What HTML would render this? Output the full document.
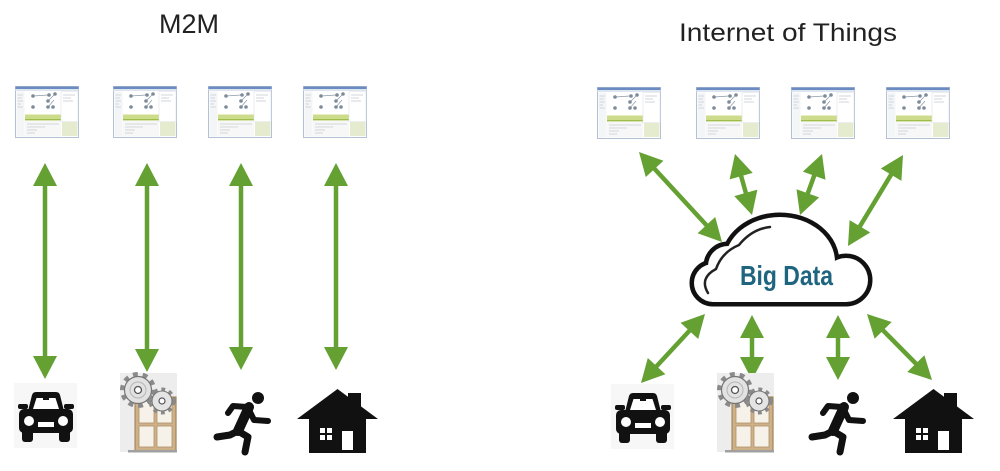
<!DOCTYPE html>
<html>
<head>
<meta charset="utf-8">
<style>
  html, body { margin: 0; padding: 0; background: #ffffff; }
  body { width: 1000px; height: 471px; overflow: hidden; }
  svg { display: block; }
</style>
</head>
<body>
<svg width="1000" height="471" viewBox="0 0 1000 471" xmlns="http://www.w3.org/2000/svg">
  <defs>
    <!-- screenshot thumbnail 64x52 -->
    <g id="thumb">
      <rect x="0.5" y="0.5" width="63" height="51" fill="#ffffff" stroke="#b4c0d4" stroke-width="1"/>
      <rect x="0.5" y="0.5" width="63" height="2.5" fill="#6b8cc2"/>
      <rect x="0.5" y="3" width="63" height="2" fill="#dde5f0"/>
      <rect x="1.5" y="5.5" width="8" height="45" fill="#f3f5f7"/>
      <g stroke="#c9ced6" stroke-width="0.8">
        <line x1="2.5" y1="9" x2="8" y2="9"/>
        <line x1="2.5" y1="12" x2="7" y2="12"/>
        <line x1="2.5" y1="15" x2="8" y2="15"/>
        <line x1="2.5" y1="18" x2="6" y2="18"/>
        <line x1="2.5" y1="21" x2="8" y2="21"/>
      </g>
      <g stroke="#8d99a6" stroke-width="0.7">
        <line x1="33" y1="15" x2="40" y2="8"/>
        <line x1="33" y1="21" x2="39" y2="14"/>
        <line x1="18" y1="10" x2="33" y2="9"/>
      </g>
      <g fill="#7d8b99">
        <circle cx="18" cy="10" r="1.8"/>
        <circle cx="34" cy="9" r="1.8"/>
        <circle cx="40" cy="8" r="1.8"/>
        <circle cx="33" cy="15" r="1.8"/>
        <circle cx="18" cy="21" r="1.8"/>
        <circle cx="33" cy="21" r="1.8"/>
        <circle cx="38" cy="21" r="1.8"/>
      </g>
      <rect x="10" y="28.5" width="36" height="6" fill="#cddc8a"/>
      <rect x="10" y="33" width="36" height="1.3" fill="#9fbd4c"/>
      <rect x="10" y="35" width="36" height="15.5" fill="#f7f7f7"/>
      <g stroke="#c7ccd2" stroke-width="0.8">
        <line x1="12" y1="38" x2="44" y2="38"/>
        <line x1="12" y1="41" x2="30" y2="41"/>
        <line x1="12" y1="44" x2="22" y2="44"/>
        <line x1="12" y1="47" x2="20" y2="47"/>
      </g>
      <rect x="46" y="5.5" width="17" height="30" fill="#ffffff" stroke="#dfe3e8" stroke-width="0.6"/>
      <g stroke="#c7ccd2" stroke-width="0.8">
        <line x1="48" y1="9" x2="60" y2="9"/>
        <line x1="48" y1="12" x2="56" y2="12"/>
        <line x1="48" y1="15" x2="58" y2="15"/>
      </g>
      <rect x="47" y="36" width="15.5" height="14" fill="#e4ebcf"/>
    </g>

    <!-- car -->
    <g id="car">
      <rect x="-2" y="-8" width="63" height="65" fill="#f7f7f7"/>
      <path d="M12,20 L16,4 Q17,1 20,1 L40,1 Q43,1 44,4 L48,20 Z" fill="#111"/>
      <path d="M17,18 L20.5,7 L39.5,7 L43,18 Z" fill="#fff"/>
      <rect x="27" y="6" width="6" height="3" fill="#111"/>
      <rect x="2" y="13" width="10" height="5" rx="2" fill="#111"/>
      <rect x="48" y="13" width="10" height="5" rx="2" fill="#111"/>
      <rect x="3" y="18" width="54" height="24" rx="5" fill="#111"/>
      <circle cx="13" cy="30" r="5" fill="#fff"/>
      <circle cx="47" cy="30" r="5" fill="#fff"/>
      <rect x="22" y="31" width="16" height="5" fill="#fff"/>
      <rect x="6" y="38" width="11" height="13" rx="3" fill="#111"/>
      <rect x="43" y="38" width="11" height="13" rx="3" fill="#111"/>
    </g>

    <!-- door with gears -->
    <g id="door">
      <rect x="120" y="373" width="57" height="79" fill="#ededed"/>
      <rect x="135" y="397" width="41" height="54" fill="#cfb189" stroke="#9a7a4e" stroke-width="1"/>
      <rect x="139" y="401" width="15" height="22" fill="#f6f2ea" stroke="#b09068" stroke-width="0.8"/>
      <rect x="157" y="401" width="15" height="22" fill="#f6f2ea" stroke="#b09068" stroke-width="0.8"/>
      <rect x="139" y="426" width="15" height="21" fill="#f6f2ea" stroke="#b09068" stroke-width="0.8"/>
      <rect x="157" y="426" width="15" height="21" fill="#f6f2ea" stroke="#b09068" stroke-width="0.8"/>
      <rect x="128" y="450" width="49" height="2.5" fill="#a0a0a0"/>
      <!-- big gear -->
      <circle cx="138" cy="390" r="15.5" fill="none" stroke="#8a8a8a" stroke-width="5" stroke-dasharray="4.8 4.9"/>
      <circle cx="138" cy="390" r="13.5" fill="#e2e2e2" stroke="#777" stroke-width="1.2"/>
      <circle cx="138" cy="390" r="8" fill="none" stroke="#b5b5b5" stroke-width="1"/>
      <circle cx="138" cy="390" r="3.5" fill="#fff" stroke="#555" stroke-width="1.3"/>
      <!-- small gear -->
      <circle cx="162" cy="401" r="11.5" fill="none" stroke="#8a8a8a" stroke-width="4" stroke-dasharray="3.8 3.8"/>
      <circle cx="162" cy="401" r="10" fill="#e4e4e4" stroke="#777" stroke-width="1.1"/>
      <circle cx="162" cy="401" r="3" fill="#fff" stroke="#555" stroke-width="1.2"/>
    </g>

    <!-- runner -->
    <g id="runner" fill="none" stroke="#111" stroke-linecap="round" stroke-linejoin="round">
      <circle cx="258" cy="398" r="6" fill="#111" stroke="none"/>
      <line x1="249" y1="407" x2="238" y2="431" stroke-width="10"/>
      <polyline points="247,407 233,406 228,413" stroke-width="6"/>
      <polyline points="249,410 254,420 268,421" stroke-width="6"/>
      <polyline points="238,431 230,435 217,437" stroke-width="7"/>
      <polyline points="238,431 248,437 245,452" stroke-width="7"/>
    </g>

    <!-- house -->
    <g id="house">
      <polygon points="297,419 337.5,389 378,419" fill="#111"/>
      <rect x="348" y="393" width="13" height="16" fill="#111"/>
      <rect x="309" y="415" width="57" height="38" fill="#111"/>
      <rect x="320" y="428" width="5" height="5" fill="#fff"/>
      <rect x="327" y="428" width="5" height="5" fill="#fff"/>
      <rect x="320" y="435" width="5" height="5" fill="#fff"/>
      <rect x="327" y="435" width="5" height="5" fill="#fff"/>
      <rect x="342" y="431" width="11" height="19" fill="#fff"/>
    </g>
  </defs>

  <rect x="0" y="0" width="1000" height="471" fill="#ffffff"/>

  <!-- titles -->
  <text x="159" y="33" font-family="Liberation Sans, Arial, sans-serif" font-size="27" fill="#222" textLength="60" lengthAdjust="spacingAndGlyphs">M2M</text>
  <text x="679" y="41" font-family="Liberation Sans, Arial, sans-serif" font-size="25" fill="#222" textLength="218" lengthAdjust="spacingAndGlyphs">Internet of Things</text>

  <!-- thumbnails -->
  <use href="#thumb" x="15" y="86"/>
  <use href="#thumb" x="113" y="86"/>
  <use href="#thumb" x="208" y="86"/>
  <use href="#thumb" x="303" y="86"/>
  <use href="#thumb" x="597" y="87"/>
  <use href="#thumb" x="696" y="87"/>
  <use href="#thumb" x="791" y="87"/>
  <use href="#thumb" x="886" y="87"/>

  <!-- left arrows -->
  <g fill="#64a032" stroke="none">
    <polygon points="45,163 33,186 57,186"/>
    <polygon points="45,379 33,356 57,356"/>
    <polygon points="147,163 135,186 159,186"/>
    <polygon points="147,372 135,349 159,349"/>
    <polygon points="241,163 229,186 253,186"/>
    <polygon points="241,370 229,347 253,347"/>
    <polygon points="336,163 324,186 348,186"/>
    <polygon points="336,370 324,347 348,347"/>
  </g>
  <g stroke="#64a032" stroke-width="4.5" fill="none">
    <line x1="45" y1="184" x2="45" y2="358"/>
    <line x1="147" y1="184" x2="147" y2="351"/>
    <line x1="241" y1="184" x2="241" y2="349"/>
    <line x1="336" y1="184" x2="336" y2="349"/>
  </g>

  <!-- right arrows -->
  <g stroke="#64a032" stroke-width="4.5" fill="none">
    <line x1="653.2" y1="167.4" x2="707.8" y2="226.6"/>
    <line x1="740.6" y1="174.2" x2="746.4" y2="194.8"/>
    <line x1="814.9" y1="173.75" x2="807.1" y2="195.25"/>
    <line x1="892.1" y1="173.0" x2="858.9" y2="228.0"/>
    <line x1="690.7" y1="329.4" x2="655.3" y2="367.6"/>
    <line x1="752" y1="336" x2="752" y2="359"/>
    <line x1="838" y1="336" x2="838" y2="359"/>
    <line x1="881.7" y1="329.0" x2="917.3" y2="365.0"/>
  </g>
  <g fill="#64a032" stroke="none">
    <polygon points="639,152 645.8,177.0 663.4,160.8"/>
    <polygon points="722,242 697.6,233.2 715.2,217.0"/>
    <polygon points="735,154 729.6,179.4 752.7,172.9"/>
    <polygon points="752,215 734.3,196.1 757.4,189.6"/>
    <polygon points="822,154 802.9,171.6 825.5,179.7"/>
    <polygon points="800,215 796.5,189.3 819.1,197.4"/>
    <polygon points="903,155 880.8,168.5 901.4,180.9"/>
    <polygon points="848,246 849.6,220.1 870.2,232.5"/>
    <polygon points="705,314 680.6,322.7 698.2,339.0"/>
    <polygon points="641,383 647.8,358.0 665.4,374.3"/>
    <polygon points="752,315 740,338 764,338"/>
    <polygon points="752,380 740,357 764,357"/>
    <polygon points="838,315 826,338 850,338"/>
    <polygon points="838,380 826,357 850,357"/>
    <polygon points="867,314 874.6,338.8 891.7,322.0"/>
    <polygon points="932,380 907.3,372.0 924.4,355.2"/>
  </g>

  <!-- cloud -->
  <g fill="#111" stroke="#111" stroke-width="9" stroke-linejoin="round">
    <circle cx="713" cy="283" r="19"/>
    <circle cx="728" cy="266" r="20"/>
    <path d="M725,262 A55,45 0 0 1 835,262 L835,300 L725,300 Z"/>
    <circle cx="846" cy="280" r="22"/>
    <rect x="713" y="266" width="133" height="36"/>
  </g>
  <g fill="#fff" stroke="none">
    <circle cx="713" cy="283" r="19"/>
    <circle cx="728" cy="266" r="20"/>
    <path d="M725,262 A55,45 0 0 1 835,262 L835,300 L725,300 Z"/>
    <circle cx="846" cy="280" r="22"/>
    <rect x="713" y="266" width="133" height="36"/>
  </g>
  <path d="M708,293 Q699,278 716,269 Q722,252 739,245 Q752,229 770,227" fill="none" stroke="#222" stroke-width="2.5" stroke-linecap="round"/>
  <text x="740" y="285" font-family="Liberation Sans Narrow, Liberation Sans, Arial, sans-serif" font-weight="bold" font-size="28" fill="#1f6580" textLength="93" lengthAdjust="spacingAndGlyphs">Big Data</text>

  <!-- bottom icons left -->
  <use href="#car" x="16" y="391"/>
  <use href="#door"/>
  <use href="#runner"/>
  <use href="#house"/>

  <!-- bottom icons right -->
  <use href="#car" x="613" y="392"/>
  <use href="#door" x="597" y="0"/>
  <use href="#runner" x="595" y="0"/>
  <use href="#house" x="596" y="0"/>
</svg>
</body>
</html>
